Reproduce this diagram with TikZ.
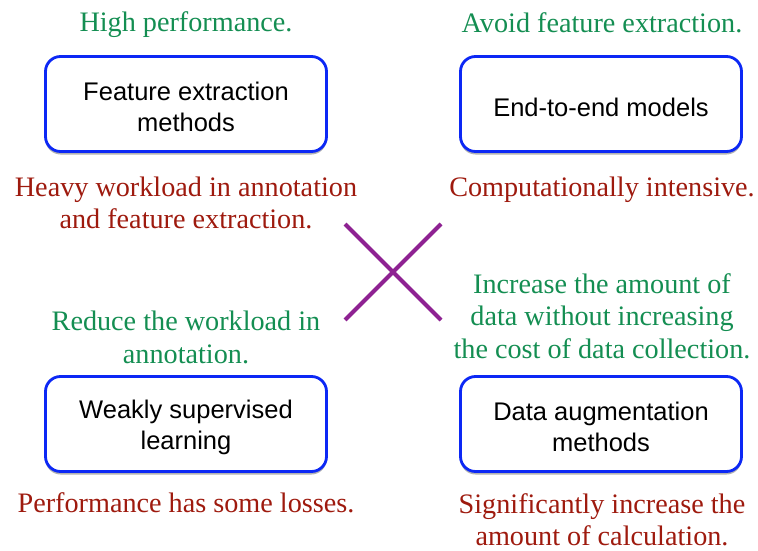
\documentclass[tikz,border=0pt]{standalone}
\usepackage{fontspec}
\setmainfont{Liberation Serif}
\newfontfamily\boxfont{Liberation Sans}
\usetikzlibrary{shadows}
\definecolor{pgreen}{RGB}{20,142,82}
\definecolor{pred}{RGB}{158,26,14}
\definecolor{pblue}{RGB}{12,40,245}
\definecolor{ppurple}{RGB}{142,34,146}
\newcommand\boxstrut{\rule{0pt}{25pt}}
\begin{document}
\begin{tikzpicture}[x=1pt,y=-1pt,
  method/.style={draw=pblue, line width=2.8pt, rounded corners=15pt, fill=white,
    minimum width=281pt, minimum height=95pt, align=center, inner sep=0pt,
    font=\boxfont\fontsize{25.5}{31}\selectfont,
    drop shadow={shadow xshift=0pt, shadow yshift=-3pt, opacity=0.3, fill=black}},
  pro/.style={text=pgreen, align=center, inner sep=0pt, font=\fontsize{28.2}{32.5}\selectfont},
  con/.style={text=pred, align=center, inner sep=0pt, font=\fontsize{28.2}{32.5}\selectfont},
  cross/.style={draw=ppurple, line width=4.2pt}]
\path[use as bounding box] (0,0) rectangle (758,551);
\node[method] (fe) at (186,104) {\boxstrut Feature extraction\\methods};
\node[method] (e2e) at (601,104) {\boxstrut End-to-end models};
\node[method] (ws) at (186,424) {\boxstrut Weakly supervised\\learning};
\node[method] (da) at (601,424) {\boxstrut Data augmentation\\methods};
\node[pro] (fep) at (186,25) {High performance.};
\node[con] (fec) at (186,203) {Heavy workload in annotation\\and feature extraction.};
\node[pro] (e2ep) at (602,22.5) {Avoid feature extraction.};
\node[con] (e2ec) at (602,190) {Computationally intensive.};
\node[pro] (wsp) at (186,337.5) {Reduce the workload in\\annotation.};
\node[con] (wsc) at (186,503) {Performance has some losses.};
\node[pro] (dap) at (602,316) {Increase the amount of\\data without increasing\\the cost of data collection.};
\node[con] (dac) at (602,520) {Significantly increase the\\amount of calculation.};
\coordinate (c1) at (345,224);
\coordinate (c2) at (441,320);
\coordinate (c3) at (441,224);
\coordinate (c4) at (345,320);
\draw[cross] (c1) -- (c2);
\draw[cross] (c3) -- (c4);
\end{tikzpicture}
\end{document}
